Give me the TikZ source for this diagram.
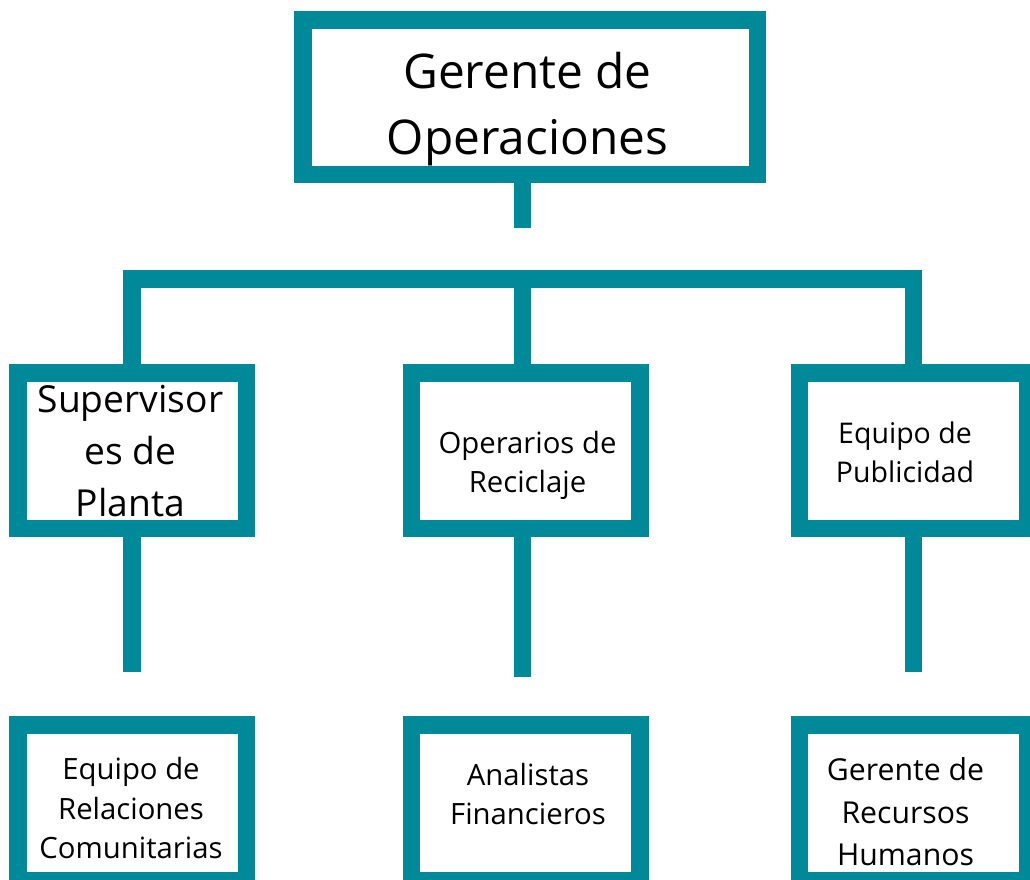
\documentclass[tikz,border=0pt]{standalone}
\usepackage{fontspec}
\setmainfont{Open Sans}
\definecolor{tealA}{RGB}{0,137,153}
\begin{document}
\begin{tikzpicture}[x=1pt,y=-1pt,
  box/.style={draw=tealA, line width=17.5pt, fill=white, inner sep=0pt, outer sep=0pt, rectangle},
  bigbox/.style={box, minimum width=454.5pt, minimum height=154.5pt},
  unitbox/.style={box, minimum width=228.5pt, minimum height=155.5pt},
  link/.style={draw=tealA, line width=17.5pt, line join=miter, line cap=butt},
  lbl/.style={align=center, inner sep=0pt, text=black}]
\useasboundingbox (0,0) rectangle (1030,879);
\clip (0,0) rectangle (1030,879);
% boxes
\node[bigbox] (top) at (530,97) {};
\node[unitbox] (sup) at (132,450.5) {};
\node[unitbox] (ope) at (525.5,450.5) {};
\node[unitbox] (pub) at (913.5,450.5) {};
\node[unitbox] (rel) at (132,802.5) {};
\node[unitbox] (ana) at (525.5,802.5) {};
\node[unitbox] (rrhh) at (913.5,802.5) {};
% connector points
\coordinate (topend) at (522.5,228);
\coordinate (barL) at (132,279);
\coordinate (barM) at (522.5,279);
\coordinate (barR) at (913.5,279);
\coordinate (supend) at (132,672);
\coordinate (opeend) at (522.5,677);
\coordinate (pubend) at (913.5,672);
% connectors
\draw[link] (top.south -| topend) -- (topend);
\draw[link] (sup.north) -- (barL) -- (barR) -- (pub.north);
\draw[link] (barM) -- (ope.north -| barM);
\draw[link] (sup.south) -- (supend);
\draw[link] (ope.south -| opeend) -- (opeend);
\draw[link] (pub.south) -- (pubend);
% labels
\node[lbl, font=\fontsize{47.8}{66}\selectfont] (ttop) at (527.5,109.5) {Gerente de\\Operaciones};
\node[lbl, font=\fontsize{37.2}{52}\selectfont] (tsup) at (130.5,451.5) {Supervisor\\es de\\Planta};
\node[lbl, font=\fontsize{29.3}{39}\selectfont] (tope) at (527.5,465.5) {Operarios de\\Reciclaje};
\node[lbl, font=\fontsize{28.5}{39}\selectfont] (tpub) at (905,452) {Equipo de\\Publicidad};
\node[lbl, font=\fontsize{29.3}{39.5}\selectfont] (trel) at (131,808) {Equipo de\\Relaciones\\Comunitarias};
\node[lbl, font=\fontsize{29.3}{39}\selectfont] (tana) at (528,794) {Analistas\\Financieros};
\node[lbl, font=\fontsize{30.2}{42.5}\selectfont] (trrhh) at (905.5,812) {Gerente de\\Recursos\\Humanos};
\end{tikzpicture}
\end{document}
